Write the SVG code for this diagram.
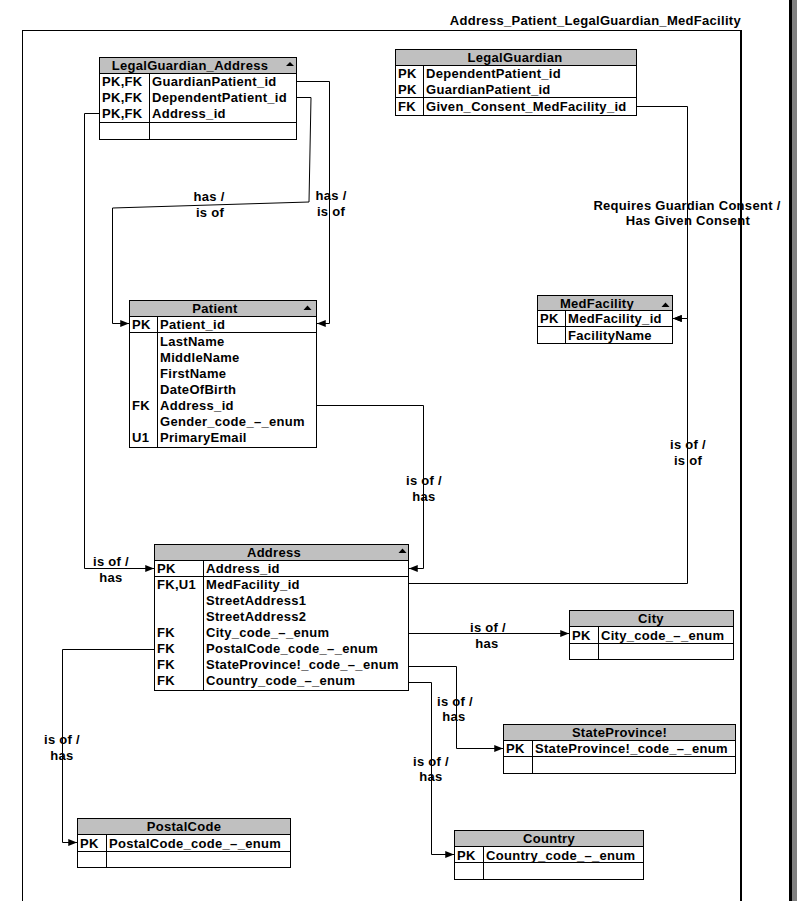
<svg xmlns="http://www.w3.org/2000/svg" width="797" height="901" viewBox="0 0 797 901">
<defs>
<style>
.t{font-family:"Liberation Sans",Arial,sans-serif;font-size:13px;font-weight:bold;fill:#000;letter-spacing:0.3px}
.m{text-anchor:middle}
.hd{fill:#c0c0c0;stroke:#000;stroke-width:1}
.bx{fill:#fff;stroke:#000;stroke-width:1}
.ln{stroke:#000;stroke-width:1;fill:none}
.c{stroke:#000;stroke-width:1;fill:none}
.ca{stroke:#000;stroke-width:1;fill:none;marker-end:url(#arr)}
</style>
<marker id="arr" viewBox="0 0 10 8" refX="10" refY="4" markerWidth="9" markerHeight="7" markerUnits="userSpaceOnUse" orient="auto">
<path d="M0,0 L10,4 L0,8 z" fill="#000"/>
</marker>
</defs>
<rect x="0" y="0" width="797" height="901" fill="#fff"/>
<g id="frame">
<line class="ln" x1="22" y1="30.5" x2="742" y2="30.5"/>
<line class="ln" x1="22.5" y1="30" x2="22.5" y2="901"/>
<line x1="741" y1="30" x2="741" y2="901" stroke="#000" stroke-width="2"/>
<rect x="789" y="0" width="3" height="901" fill="#000"/>
<rect x="792" y="0" width="5" height="901" fill="#808080"/>
<text class="t" x="741" y="24.5" text-anchor="end">Address_Patient_LegalGuardian_MedFacility</text>
</g>

<g id="connectors">
<path class="ca" d="M297,81.5 H329.5 V323.5 H317"/>
<path class="ca" d="M297,97.5 H311 L309,202 L112.5,208 V323.5 H129"/>
<path class="ca" d="M99,113.5 H84.5 V568.5 H154"/>
<path class="ca" d="M316,405.5 H423.5 V568.5 H409"/>
<path class="ca" d="M637,106.5 H687.5 V318.5 H673"/>
<path class="ca" d="M409,583.5 H687.5 V318.5 H673"/>
<path class="ca" d="M409,633.5 H569"/>
<path class="ca" d="M409,666.5 H456.5 V748.5 H503"/>
<path class="ca" d="M409,682.5 H431.5 V854.5 H454"/>
<path class="ca" d="M154,649.5 H62.5 V842.5 H77"/>
<text class="t m" x="331" y="200">has /</text>
<text class="t m" x="331" y="216">is of</text>
<text class="t m" x="209" y="201">has /</text>
<text class="t m" x="210" y="217">is of</text>
<text class="t m" x="111" y="566">is of /</text>
<text class="t m" x="111" y="582">has</text>
<text class="t m" x="424" y="485">is of /</text>
<text class="t m" x="424" y="501">has</text>
<text class="t m" x="687" y="210">Requires Guardian Consent /</text>
<text class="t m" x="688" y="225">Has Given Consent</text>
<text class="t m" x="688" y="449">is of /</text>
<text class="t m" x="688" y="465">is of</text>
<text class="t m" x="488" y="632">is of /</text>
<text class="t m" x="487" y="648">has</text>
<text class="t m" x="455" y="706">is of /</text>
<text class="t m" x="454" y="721">has</text>
<text class="t m" x="431" y="766">is of /</text>
<text class="t m" x="431" y="781">has</text>
<text class="t m" x="62" y="743.5">is of /</text>
<text class="t m" x="62" y="759.5">has</text>
</g>

<g id="LegalGuardian_Address">
<rect class="bx" x="99.5" y="57.5" width="197" height="82"/>
<rect class="hd" x="99.5" y="57.5" width="197" height="16"/>
<polygon points="286,66 294,66 290,62" fill="#000"/>
<line class="ln" x1="149.5" y1="73.5" x2="149.5" y2="139.5"/>
<line class="ln" x1="99.5" y1="122.5" x2="296.5" y2="122.5"/>
<text class="t m" x="190" y="69.5">LegalGuardian_Address</text>
<text class="t" x="102" y="86">PK,FK</text><text class="t" x="152" y="86">GuardianPatient_id</text>
<text class="t" x="102" y="102">PK,FK</text><text class="t" x="152" y="102">DependentPatient_id</text>
<text class="t" x="102" y="118">PK,FK</text><text class="t" x="152" y="118">Address_id</text>
</g>

<g id="LegalGuardian">
<rect class="bx" x="395.5" y="49.5" width="241" height="66"/>
<rect class="hd" x="395.5" y="49.5" width="241" height="16"/>
<line class="ln" x1="423.5" y1="65.5" x2="423.5" y2="115.5"/>
<line class="ln" x1="395.5" y1="97.5" x2="636.5" y2="97.5"/>
<text class="t m" x="515" y="62">LegalGuardian</text>
<text class="t" x="398" y="78">PK</text><text class="t" x="426" y="78">DependentPatient_id</text>
<text class="t" x="398" y="94">PK</text><text class="t" x="426" y="94">GuardianPatient_id</text>
<text class="t" x="398" y="110.5">FK</text><text class="t" x="426" y="110.5">Given_Consent_MedFacility_id</text>
</g>

<g id="Patient">
<rect class="bx" x="129.5" y="300.5" width="187" height="147"/>
<rect class="hd" x="129.5" y="300.5" width="187" height="16"/>
<polygon points="303.5,310 311.5,310 307.5,305.5" fill="#000"/>
<line class="ln" x1="157.5" y1="316.5" x2="157.5" y2="447.5"/>
<line class="ln" x1="129.5" y1="332.5" x2="316.5" y2="332.5"/>
<text class="t m" x="215" y="313">Patient</text>
<text class="t" x="132" y="329">PK</text><text class="t" x="160" y="329">Patient_id</text>
<text class="t" x="160" y="346">LastName</text>
<text class="t" x="160" y="362">MiddleName</text>
<text class="t" x="160" y="378">FirstName</text>
<text class="t" x="160" y="394">DateOfBirth</text>
<text class="t" x="132" y="410">FK</text><text class="t" x="160" y="410">Address_id</text>
<text class="t" x="160" y="426">Gender_code_–_enum</text>
<text class="t" x="132" y="442">U1</text><text class="t" x="160" y="442">PrimaryEmail</text>
</g>

<g id="MedFacility">
<rect class="bx" x="537.5" y="295.5" width="135" height="48"/>
<rect class="hd" x="537.5" y="295.5" width="135" height="15"/>
<polygon points="661.5,307 669.5,307 665.5,302.5" fill="#000"/>
<line class="ln" x1="565.5" y1="310.5" x2="565.5" y2="343.5"/>
<line class="ln" x1="537.5" y1="326.5" x2="672.5" y2="326.5"/>
<text class="t m" x="597" y="307.5">MedFacility</text>
<text class="t" x="540" y="323">PK</text><text class="t" x="568" y="323">MedFacility_id</text>
<text class="t" x="568" y="339.5">FacilityName</text>
</g>

<g id="Address">
<rect class="bx" x="154.5" y="544.5" width="254" height="146"/>
<rect class="hd" x="154.5" y="544.5" width="254" height="16"/>
<polygon points="398.5,553 406.5,553 402.5,548.5" fill="#000"/>
<line class="ln" x1="203.5" y1="560.5" x2="203.5" y2="690.5"/>
<line class="ln" x1="154.5" y1="576.5" x2="408.5" y2="576.5"/>
<text class="t m" x="274" y="556.5">Address</text>
<text class="t" x="157" y="572.5">PK</text><text class="t" x="206" y="572.5">Address_id</text>
<text class="t" x="157" y="588.5">FK,U1</text><text class="t" x="206" y="588.5">MedFacility_id</text>
<text class="t" x="206" y="604.5">StreetAddress1</text>
<text class="t" x="206" y="620.5">StreetAddress2</text>
<text class="t" x="157" y="636.5">FK</text><text class="t" x="206" y="636.5">City_code_–_enum</text>
<text class="t" x="157" y="652.5">FK</text><text class="t" x="206" y="652.5">PostalCode_code_–_enum</text>
<text class="t" x="157" y="668.5">FK</text><text class="t" x="206" y="668.5">StateProvince!_code_–_enum</text>
<text class="t" x="157" y="684.5">FK</text><text class="t" x="206" y="684.5">Country_code_–_enum</text>
</g>

<g id="City">
<rect class="bx" x="569.5" y="610.5" width="164" height="49"/>
<rect class="hd" x="569.5" y="610.5" width="164" height="16"/>
<line class="ln" x1="598.5" y1="626.5" x2="598.5" y2="659.5"/>
<line class="ln" x1="569.5" y1="643.5" x2="733.5" y2="643.5"/>
<text class="t m" x="651" y="623">City</text>
<text class="t" x="572" y="639.5">PK</text><text class="t" x="601" y="639.5">City_code_–_enum</text>
</g>

<g id="StateProvince">
<rect class="bx" x="503.5" y="724.5" width="232" height="49"/>
<rect class="hd" x="503.5" y="724.5" width="232" height="16"/>
<line class="ln" x1="532.5" y1="740.5" x2="532.5" y2="773.5"/>
<line class="ln" x1="503.5" y1="756.5" x2="735.5" y2="756.5"/>
<text class="t m" x="619.5" y="737">StateProvince!</text>
<text class="t" x="506" y="753">PK</text><text class="t" x="535" y="753">StateProvince!_code_–_enum</text>
</g>

<g id="PostalCode">
<rect class="bx" x="77.5" y="818.5" width="213" height="49"/>
<rect class="hd" x="77.5" y="818.5" width="213" height="16"/>
<line class="ln" x1="106.5" y1="834.5" x2="106.5" y2="867.5"/>
<line class="ln" x1="77.5" y1="851.5" x2="290.5" y2="851.5"/>
<text class="t m" x="184" y="831">PostalCode</text>
<text class="t" x="80" y="848">PK</text><text class="t" x="109" y="848">PostalCode_code_–_enum</text>
</g>

<g id="Country">
<rect class="bx" x="454.5" y="830.5" width="189" height="49"/>
<rect class="hd" x="454.5" y="830.5" width="189" height="16"/>
<line class="ln" x1="483.5" y1="846.5" x2="483.5" y2="879.5"/>
<line class="ln" x1="454.5" y1="862.5" x2="643.5" y2="862.5"/>
<text class="t m" x="549" y="843">Country</text>
<text class="t" x="457" y="860">PK</text><text class="t" x="486" y="860">Country_code_–_enum</text>
</g>
</svg>
